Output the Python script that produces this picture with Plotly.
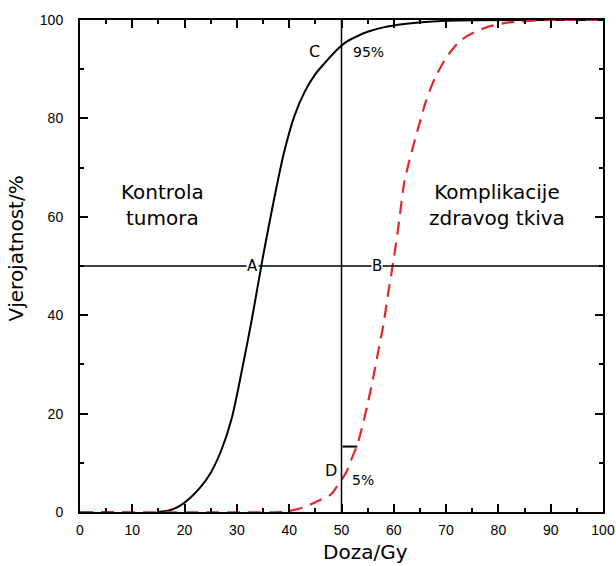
import plotly.graph_objects as go

# tumour control curve (black, solid)
tumor_dose = [15, 17, 19, 21, 23, 25, 27, 29, 31, 33, 35, 37, 39, 41, 43, 45,
              47, 49, 51, 53, 55, 58, 62, 66, 72, 100]
tumor_prob = [0, 0.3, 1.2, 2.8, 5.0, 8.0, 12.5, 19.0, 29.0, 40.0, 52.0, 63.0, 73.0,
              80.5, 85.5, 89.0, 91.5, 93.8, 95.6, 96.7, 97.6, 98.5, 99.2, 99.6, 99.9, 100]

# normal tissue complication curve (red, dashed)
compl_dose = [0, 38, 40, 42, 44, 46, 48, 49, 50, 51, 52, 53, 54, 55, 56, 57, 58, 59,
              60, 61, 62, 63, 64, 65, 66, 67, 68, 69, 70, 72, 73, 75, 78, 82, 90, 100]
compl_prob = [0, 0, 0.2, 0.7, 1.5, 2.5, 3.6, 5.0, 6.5, 8.3, 11.0, 13.6, 17.5, 22.0,
              27.0, 32.5, 38.0, 45.0, 51.5, 59.0, 67.0, 71.5, 75.5, 79.3, 83.0, 86.0,
              88.5, 90.5, 92.3, 95.0, 96.0, 97.3, 98.6, 99.5, 100, 100]

x_ticks = [0, 10, 20, 30, 40, 50, 60, 70, 80, 90, 100]
y_ticks = [0, 20, 40, 60, 80, 100]

FONT = "DejaVu Sans"
TICKFONT = "Liberation Sans"

fig = go.Figure()

# reference lines at 50 Gy and 50 %
fig.add_shape(type="line", x0=50, x1=50, y0=0, y1=100, line=dict(color="black", width=1.5))
fig.add_shape(type="line", x0=0, x1=100, y0=50, y1=50, line=dict(color="black", width=1.5))
# small marker stroke near 5 % point
fig.add_shape(type="line", x0=50.2, x1=53, y0=13.3, y1=13.3, line=dict(color="black", width=2))

fig.add_trace(go.Scatter(
    x=tumor_dose, y=tumor_prob, mode="lines",
    line=dict(color="black", width=2, shape="spline", smoothing=0.8),
    showlegend=False
))
fig.add_trace(go.Scatter(
    x=compl_dose, y=compl_prob, mode="lines",
    line=dict(color="#e3262e", width=2.2, dash="13px,8px", shape="spline", smoothing=0.8),
    showlegend=False
))

labels = [
    (33.0, 50, "A", 15),
    (56.8, 50, "B", 15),
    (44.9, 93.5, "C", 16),
    (47.9, 8.5, "D", 16),
]
for x, y, t, s in labels:
    fig.add_annotation(x=x, y=y, text=t, showarrow=False, bgcolor="white",
                       borderpad=0, font=dict(family=FONT, size=s, color="black"))

fig.add_annotation(x=55.2, y=93.5, text="95%", showarrow=False,
                   font=dict(family=FONT, size=14, color="black"))
fig.add_annotation(x=54.2, y=6.5, text="5%", showarrow=False,
                   font=dict(family=FONT, size=14, color="black"))

fig.add_annotation(x=15.7, y=62.5, text="Kontrola<br>tumora", showarrow=False,
                   font=dict(family=FONT, size=20, color="black"), align="center")
fig.add_annotation(x=79.7, y=62.5, text="Komplikacije<br>zdravog tkiva", showarrow=False,
                   font=dict(family=FONT, size=20, color="black"), align="center")

# axis titles
fig.add_annotation(xref="paper", yref="paper", x=0.545, xanchor="center", y=-0.082,
                   yanchor="middle", text="Doza/Gy",
                   showarrow=False, font=dict(family=FONT, size=20, color="black"))
fig.add_annotation(xref="paper", yref="paper", x=-0.123, xanchor="center", y=0.535,
                   yanchor="middle", text="Vjerojatnost/%",
                   showarrow=False, textangle=-90,
                   font=dict(family=FONT, size=20, color="black"))

axis_common = dict(
    showgrid=False, zeroline=False, showline=True, linecolor="black", linewidth=2,
    mirror="allticks", ticks="inside", ticklen=8, tickwidth=1.5, tickcolor="black",
    tickfont=dict(family=TICKFONT, size=14, color="black"), automargin=False,
)

fig.update_xaxes(range=[0, 100], tickvals=x_ticks, ticklabelstandoff=4,
                 minor=dict(dtick=5, ticks="inside", ticklen=4, tickcolor="black", tickwidth=1.5),
                 **axis_common)
fig.update_yaxes(range=[0, 100], tickvals=y_ticks, ticklabelstandoff=12,
                 minor=dict(dtick=10, ticks="inside", ticklen=4, tickcolor="black", tickwidth=1.5),
                 **axis_common)

fig.update_layout(
    width=616, height=566,
    margin=dict(l=80, r=13, t=20, b=54),
    plot_bgcolor="white", paper_bgcolor="white",
)

# the page body has a default 8px margin; drop it so the figure sits at the corner
fig.write_html("out.html", config={"displayModeBar": False},
               post_script="document.body.style.margin='0';")
